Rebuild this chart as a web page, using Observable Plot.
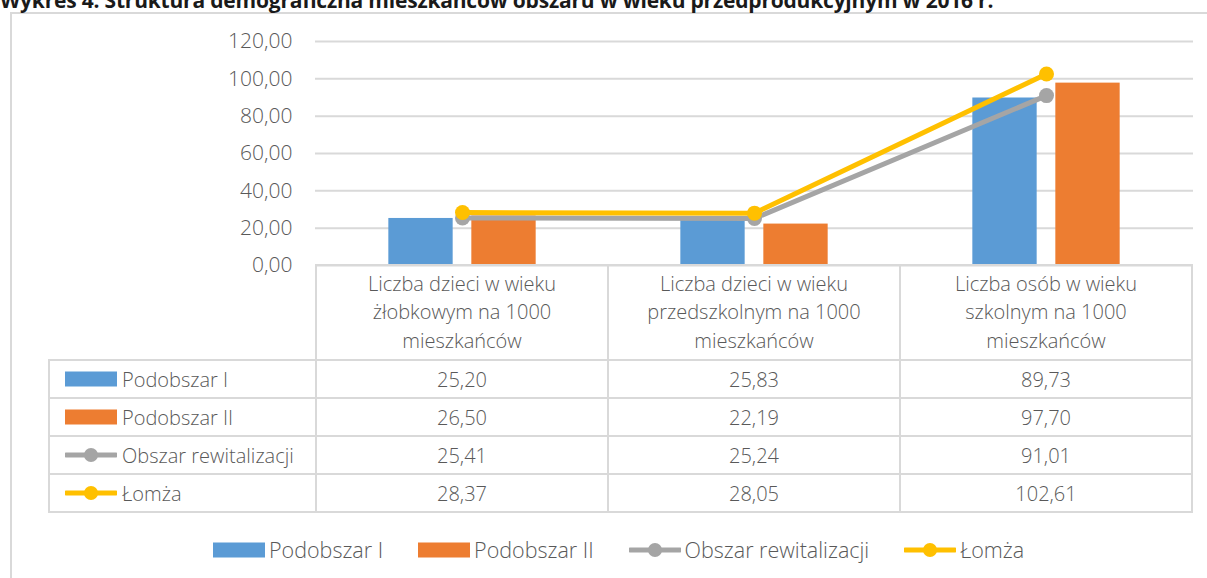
<!DOCTYPE html>
<html>
<head>
<meta charset="utf-8">
<script src="https://cdn.jsdelivr.net/npm/d3@7"></script>
<script src="https://cdn.jsdelivr.net/npm/@observablehq/plot@0.6"></script>
<style>
  html, body { margin: 0; padding: 0; background: #fff; }
  #wrap { position: relative; width: 1207px; height: 578px; overflow: hidden; font-family: "Open Sans", sans-serif; font-weight: 300; color: #595959; }
  #title { position: absolute; left: 0; top: -12px; font-size: 21px; line-height: 24px; font-weight: 700; color: #1a1a1a; white-space: nowrap; letter-spacing: -0.2px; }
  #frame { position: absolute; left: 10px; top: 12px; width: 1300px; height: 700px; border: 2px solid #d9d9d9; box-sizing: border-box; }
  #chart { position: absolute; left: 0; top: 0; }
  #tbl { position: absolute; left: 48px; top: 264px; border-collapse: collapse; table-layout: fixed; font-size: 20px; color: #595959; }
  #tbl td { border: 2px solid #d9d9d9; padding: 0; text-align: center; height: 36px; }
  #tbl tr.head td { height: 93px; white-space: pre-line; line-height: 28.5px; vertical-align: middle; }
  #tbl tr.head td.empty { border: none; border-right: 2px solid #d9d9d9; border-bottom: 2px solid #d9d9d9; }
  #tbl td.lab { text-align: left; padding-left: 15px; white-space: nowrap; }
  .sw { display: inline-block; vertical-align: middle; margin-right: 5px; position: relative; top: -2px; }
  #legend { position: absolute; left: 213px; top: 535px; display: flex; gap: 35px; font-size: 21.5px; color: #595959; align-items: center; }
  #legend .it { display: flex; align-items: center; white-space: nowrap; }
  #legend .sw { top: 0; margin-right: 4px; }
</style>
</head>
<body>
<div id="wrap">
  <div id="frame"></div>
  <div id="title">Wykres 4. Struktura demograficzna mieszkańców obszaru w wieku przedprodukcyjnym w 2016 r.</div>
  <div id="chart"></div>
  <table id="tbl"></table>
  <div id="legend"></div>
</div>
<script>
// ---- data ----
const categories = [
  "Liczba dzieci w wieku\nżłobkowym na 1000\nmieszkańców",
  "Liczba dzieci w wieku\nprzedszkolnym na 1000\nmieszkańców",
  "Liczba osób w wieku\nszkolnym na 1000\nmieszkańców"
];
const seriesNames = ["Podobszar I", "Podobszar II", "Obszar rewitalizacji", "Łomża"];
const seriesKinds = ["bar", "bar", "line", "line"];
const seriesColors = ["#5B9BD5", "#ED7D31", "#A5A5A5", "#FFC000"];
const podobszarI = [25.20, 25.83, 89.73];
const podobszarII = [26.50, 22.19, 97.70];
const obszarRewitalizacji = [25.41, 25.24, 91.01];
const lomza = [28.37, 28.05, 102.61];
const yTicks = [0, 20, 40, 60, 80, 100, 120];

const seriesValues = [podobszarI, podobszarII, obszarRewitalizacji, lomza];
const fmt = v => v.toFixed(2).replace(".", ",");
const rows = s => categories.map((c, i) => ({cat: c, v: seriesValues[s][i]}));

// ---- layout ----
const W = 1207, ML = 315, MR = 14, MT = 41, PH = 224;
const bw = (W - ML - MR) / categories.length;
const barW = 65, gap = 18;
const half = bw / 2;

const chart = Plot.plot({
  width: W,
  height: MT + PH + 1,
  marginTop: MT,
  marginBottom: 1,
  marginLeft: ML,
  marginRight: MR,
  style: {color: "#595959", background: "transparent", fontFamily: "'Open Sans', sans-serif", fontWeight: 300, overflow: "visible"},
  x: {domain: categories, padding: 0, axis: null},
  y: {domain: [0, 120], axis: null},
  marks: [
    Plot.ruleY(yTicks, {stroke: "#d9d9d9", strokeWidth: 2}),
    Plot.axisY({ticks: yTicks, tickFormat: fmt, tickSize: 0, tickPadding: 23, fontSize: 21, label: null}),
    Plot.barY(rows(0), {x: "cat", y: "v", fill: seriesColors[0], insetLeft: half - gap / 2 - barW, insetRight: half + gap / 2}),
    Plot.barY(rows(1), {x: "cat", y: "v", fill: seriesColors[1], insetLeft: half + gap / 2, insetRight: half - gap / 2 - barW}),
    Plot.line(rows(2), {x: "cat", y: "v", stroke: seriesColors[2], strokeWidth: 5}),
    Plot.dot(rows(2), {x: "cat", y: "v", fill: seriesColors[2], r: 7.5}),
    Plot.line(rows(3), {x: "cat", y: "v", stroke: seriesColors[3], strokeWidth: 5}),
    Plot.dot(rows(3), {x: "cat", y: "v", fill: seriesColors[3], r: 7.5})
  ]
});
document.getElementById("chart").appendChild(chart);

// ---- swatches ----
function swatch(i) {
  const c = seriesColors[i];
  if (seriesKinds[i] === "bar") {
    return `<svg class="sw" width="52" height="16"><rect x="0" y="0.5" width="52" height="15" fill="${c}"/></svg>`;
  }
  return `<svg class="sw" width="52" height="16"><line x1="1" y1="8" x2="51" y2="8" stroke="${c}" stroke-width="5" stroke-linecap="round"/><circle cx="26" cy="8" r="7" fill="${c}"/></svg>`;
}

// ---- data table aligned to x scale ----
const xs = chart.scale("x");
const colW = xs.bandwidth;
const firstW = ML - 48;
let html = `<colgroup><col style="width:${firstW}px">` + categories.map(() => `<col style="width:${colW}px">`).join("") + `</colgroup>`;
html += `<tr class="head"><td class="empty"></td>` + categories.map(c => `<td>${c}</td>`).join("") + `</tr>`;
seriesNames.forEach((n, i) => {
  html += `<tr><td class="lab">${swatch(i)}${n}</td>` + seriesValues[i].map(v => `<td>${fmt(v)}</td>`).join("") + `</tr>`;
});
const tbl = document.getElementById("tbl");
tbl.style.width = (firstW + colW * categories.length) + "px";
tbl.innerHTML = html;

// ---- legend ----
document.getElementById("legend").innerHTML = seriesNames.map((n, i) => `<div class="it">${swatch(i)}<span>${n}</span></div>`).join("");
</script>
</body>
</html>
